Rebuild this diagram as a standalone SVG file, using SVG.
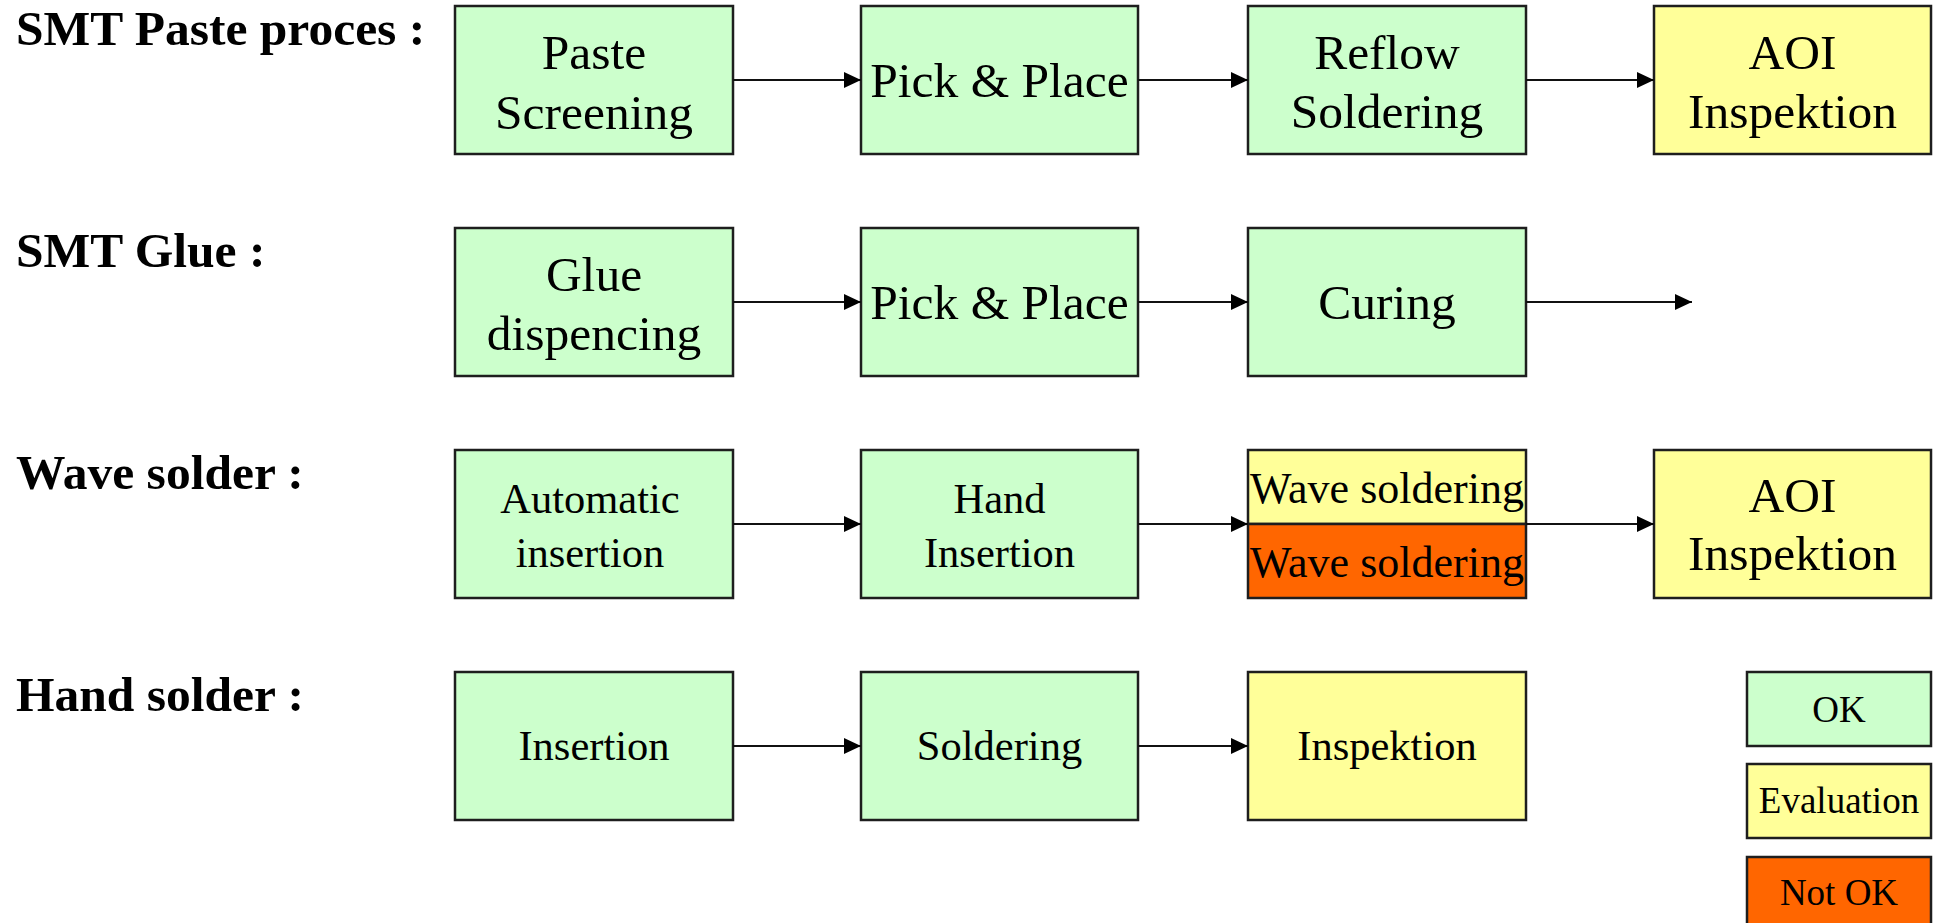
<svg xmlns="http://www.w3.org/2000/svg" width="1933" height="923" viewBox="0 0 1933 923">
  <style>
    .box { stroke: #1e1e1e; stroke-width: 2.5; }
    .ok { fill: #ccffcc; }
    .eval { fill: #ffff99; }
    .nok { fill: #ff6600; }
    text { font-family: 'Liberation Serif', 'DejaVu Serif', serif; fill: #000; }
    .label { font-weight: bold; font-size: 49.5px; }
    .t48 { font-size: 49.5px; text-anchor: middle; }
    .t44 { font-size: 44px; text-anchor: middle; }
    .t42 { font-size: 42.5px; text-anchor: middle; }
    .t37 { font-size: 37px; text-anchor: middle; }
    .conn { stroke: #111; stroke-width: 2; fill: none; marker-end: url(#arrow); }
  </style>
  <defs>
    <marker id="arrow" markerUnits="userSpaceOnUse" markerWidth="18" markerHeight="16" refX="17" refY="8" orient="auto">
      <path d="M0,0 L17,8 L0,16 Z" fill="#000"/>
    </marker>
  </defs>
  <rect width="1933" height="923" fill="#fff"/>

  <!-- Row labels -->
  <g id="row-labels">
    <text class="label" x="16" y="45">SMT Paste proces :</text>
    <text class="label" x="16" y="267">SMT Glue :</text>
    <text class="label" x="16" y="489">Wave solder :</text>
    <text class="label" x="16" y="711">Hand solder :</text>
  </g>

  <!-- SMT paste process -->
  <g id="paste-screening">
    <rect class="box ok" x="455" y="6" width="278" height="148"/>
    <text class="t48" x="594" y="69">Paste</text>
    <text class="t48" x="594" y="129">Screening</text>
  </g>
  <g id="paste-pick-place">
    <rect class="box ok" x="861" y="6" width="277" height="148"/>
    <text class="t48" x="999.5" y="97">Pick &amp; Place</text>
  </g>
  <g id="reflow-soldering">
    <rect class="box ok" x="1248" y="6" width="278" height="148"/>
    <text class="t48" x="1387" y="69">Reflow</text>
    <text class="t48" x="1387" y="128">Soldering</text>
  </g>
  <g id="paste-aoi">
    <rect class="box eval" x="1654" y="6" width="277" height="148"/>
    <text class="t48" x="1792.5" y="69">AOI</text>
    <text class="t48" x="1792.5" y="128">Inspektion</text>
  </g>

  <!-- SMT glue -->
  <g id="glue-dispencing">
    <rect class="box ok" x="455" y="228" width="278" height="148"/>
    <text class="t48" x="594" y="291">Glue</text>
    <text class="t48" x="594" y="350">dispencing</text>
  </g>
  <g id="glue-pick-place">
    <rect class="box ok" x="861" y="228" width="277" height="148"/>
    <text class="t48" x="999.5" y="319">Pick &amp; Place</text>
  </g>
  <g id="curing">
    <rect class="box ok" x="1248" y="228" width="278" height="148"/>
    <text class="t48" x="1387" y="319">Curing</text>
  </g>

  <!-- Wave solder -->
  <g id="automatic-insertion">
    <rect class="box ok" x="455" y="450" width="278" height="148"/>
    <text class="t42" x="590" y="513">Automatic</text>
    <text class="t42" x="590" y="567">insertion</text>
  </g>
  <g id="hand-insertion">
    <rect class="box ok" x="861" y="450" width="277" height="148"/>
    <text class="t42" x="999.5" y="513">Hand</text>
    <text class="t42" x="999.5" y="567">Insertion</text>
  </g>
  <g id="wave-soldering">
    <rect class="box eval" x="1248" y="450" width="278" height="74"/>
    <rect class="box nok" x="1248" y="524" width="278" height="74"/>
    <text class="t44" x="1387" y="503">Wave soldering</text>
    <text class="t44" x="1387" y="577">Wave soldering</text>
  </g>
  <g id="wave-aoi">
    <rect class="box eval" x="1654" y="450" width="277" height="148"/>
    <text class="t48" x="1792.5" y="512">AOI</text>
    <text class="t48" x="1792.5" y="570">Inspektion</text>
  </g>

  <!-- Hand solder -->
  <g id="insertion">
    <rect class="box ok" x="455" y="672" width="278" height="148"/>
    <text class="t42" x="594" y="760">Insertion</text>
  </g>
  <g id="soldering">
    <rect class="box ok" x="861" y="672" width="277" height="148"/>
    <text class="t42" x="999.5" y="760">Soldering</text>
  </g>
  <g id="inspektion">
    <rect class="box eval" x="1248" y="672" width="278" height="148"/>
    <text class="t42" x="1387" y="760">Inspektion</text>
  </g>

  <!-- Legend -->
  <g id="legend-ok">
    <rect class="box ok" x="1747" y="672" width="184" height="74"/>
    <text class="t37" x="1839" y="722">OK</text>
  </g>
  <g id="legend-evaluation">
    <rect class="box eval" x="1747" y="764" width="184" height="74"/>
    <text class="t37" x="1839" y="813">Evaluation</text>
  </g>
  <g id="legend-not-ok">
    <rect class="box nok" x="1747" y="857" width="184" height="80"/>
    <text class="t37" x="1839" y="905">Not OK</text>
  </g>

  <!-- Connectors -->
  <g id="connectors">
    <line class="conn" x1="733" y1="80" x2="861" y2="80"/>
    <line class="conn" x1="1138" y1="80" x2="1248" y2="80"/>
    <line class="conn" x1="1526" y1="80" x2="1654" y2="80"/>

    <line class="conn" x1="733" y1="302" x2="861" y2="302"/>
    <line class="conn" x1="1138" y1="302" x2="1248" y2="302"/>
    <line class="conn" x1="1526" y1="302" x2="1692" y2="302"/>

    <line class="conn" x1="733" y1="524" x2="861" y2="524"/>
    <line class="conn" x1="1138" y1="524" x2="1248" y2="524"/>
    <line class="conn" x1="1526" y1="524" x2="1654" y2="524"/>

    <line class="conn" x1="733" y1="746" x2="861" y2="746"/>
    <line class="conn" x1="1138" y1="746" x2="1248" y2="746"/>
  </g>
</svg>
